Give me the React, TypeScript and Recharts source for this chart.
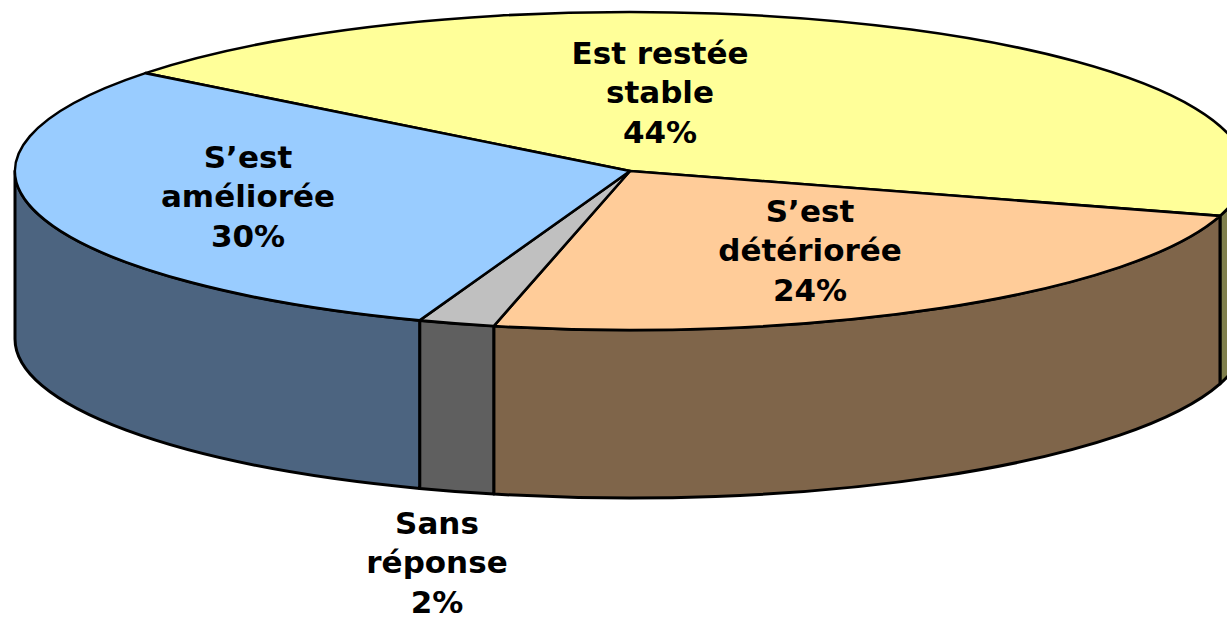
import { PieChart, Pie, Cell } from "recharts";

const categories = ["Est restée stable", "S’est détériorée", "Sans réponse", "S’est améliorée"];
const categoryLines = [["Est restée", "stable"], ["S’est", "détériorée"], ["Sans", "réponse"], ["S’est", "améliorée"]];
const values = [44, 24, 2, 30];
const topColors = ["#FFFF99", "#FFCC99", "#C0C0C0", "#99CCFF"];
const wallColors = ["#7F7F4C", "#7F654A", "#5F5F5F", "#4C6480"];

const data = categories.map((name, i) => ({ name, value: values[i] }));

// layout of the fake 3D disc
const CX = 630;
const CY = 171;
const RX = 615;
const RY = 159;
const DEPTH = 168;
const labelSpots = [
  [660, 92],
  [810, 250],
  [437, 562],
  [248, 196],
];

const pt = (deg: number, dy = 0) => {
  const a = (deg * Math.PI) / 180;
  return [CX + RX * Math.cos(a), CY - RY * Math.sin(a) + dy];
};

const arc = (from: number, to: number, dy = 0) => {
  // clockwise on screen, from > to
  const [x, y] = pt(to, dy);
  const large = from - to > 180 ? 1 : 0;
  return `A ${RX} ${RY} 0 ${large} 1 ${x} ${y}`;
};

// part of the slice that faces the viewer (angles between 0 and -180)
const wallRange = (start: number, end: number): [number, number] | null => {
  const ranges: [number, number][] = [[0, -180], [-360, -540], [360, 180]];
  for (const [hi, lo] of ranges) {
    const a = Math.min(start, hi);
    const b = Math.max(end, lo);
    if (a > b) return [a, b];
  }
  return null;
};

function Slice3D(props: any) {
  const { startAngle, endAngle, index } = props;
  const [sx, sy] = pt(startAngle);
  const range = wallRange(startAngle, endAngle);
  let wall = null;
  if (range) {
    const [a, b] = range;
    const [ax, ay] = pt(a);
    const [bx, by] = pt(b, DEPTH);
    wall = `M ${ax} ${ay} ${arc(a, b)} L ${bx} ${by} ${arc(b, a, DEPTH).replace("0 1", "0 0")} Z`;
  }
  return (
    <g>
      {wall && <path d={wall} fill={wallColors[index]} stroke="#000" strokeWidth={3} strokeLinejoin="round" />}
      <path
        d={`M ${CX} ${CY} L ${sx} ${sy} ${arc(startAngle, endAngle)} Z`}
        fill={topColors[index]}
        stroke="#000"
        strokeWidth={2.6}
        strokeLinejoin="round"
      />
    </g>
  );
}

function SliceLabel(props: any) {
  const { index, value } = props;
  const [x, y] = labelSpots[index];
  const lines = [...categoryLines[index], `${value}%`];
  return (
    <text
      x={x}
      textAnchor="middle"
      fontFamily="DejaVu Sans"
      fontWeight="bold"
      fontSize={31}
      fill="#000"
    >
      {lines.map((line, i) => (
        <tspan key={i} x={x} y={y + (i - 1) * 39.5 + 11}>
          {line}
        </tspan>
      ))}
    </text>
  );
}

export default function App() {
  return (
    <div style={{ position: "absolute", left: 0, top: 0, width: 1227, height: 617, overflow: "hidden", background: "#fff" }}>
      <PieChart width={1227} height={617} margin={{ top: 0, right: 0, bottom: 0, left: 0 }}>
        <Pie
          data={data}
          dataKey="value"
          nameKey="name"
          cx={CX}
          cy={CY}
          outerRadius={RX}
          startAngle={142}
          endAngle={-218}
          paddingAngle={0}
          stroke="none"
          shape={Slice3D}
          label={SliceLabel}
          labelLine={false}
          isAnimationActive={false}
        >
          {data.map((d, i) => (
            <Cell key={d.name} fill={topColors[i]} />
          ))}
        </Pie>
      </PieChart>
    </div>
  );
}
